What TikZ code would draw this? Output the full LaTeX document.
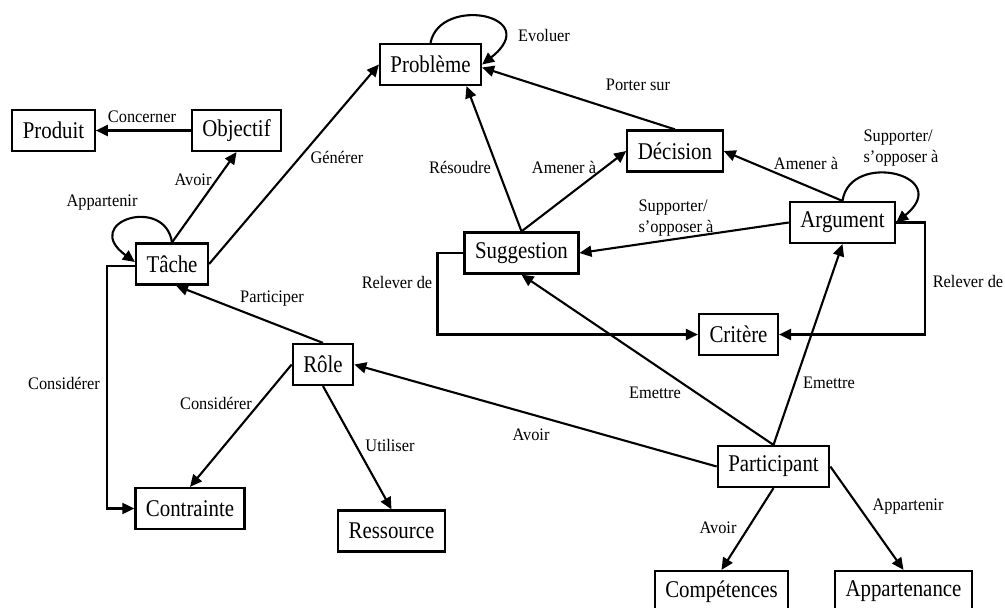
\documentclass[tikz,border=0pt]{standalone}
\usepackage{fontspec}
\setmainfont{Liberation Serif}
\newfontfamily\boxfont[FakeStretch=0.87]{Liberation Serif}
\newfontfamily\lblfont[FakeStretch=0.93]{Liberation Serif}
\usetikzlibrary{arrows.meta}
\tikzset{
  box/.style={draw, line width=2.2pt, inner xsep=10.5pt, inner ysep=0pt, minimum height=41pt, font=\boxfont\fontsize{24}{26}\selectfont},
  lbl/.style={font=\lblfont\fontsize{17.6}{21.5}\selectfont, inner sep=0pt, align=left},
  rel/.style={draw, line width=2.1pt, -{Triangle[length=12pt,width=11pt]}}
}

\begin{document}
\begin{tikzpicture}[x=1pt,y=-1pt]
    \useasboundingbox (0,0) rectangle (1005,608);
    %Boxes
    \node[box] (probleme) at (430.5,64.5) {Problème};
    \node[box] (produit) at (53.5,130.5) {Produit};
    \node[box] (objectif) at (236.5,130.5) {Objectif};
    \node[box] (tache) at (172,264) {Tâche};
    \node[box] (decision) at (675,151) {Décision};
    \node[box] (suggestion) at (521.5,253) {Suggestion};
    \node[box] (argument) at (842.5,222.5) {Argument};
    \node[box] (critere) at (738.5,334.5) {Critère};
    \node[box] (role) at (323,364.5) {Rôle};
    \node[box] (contrainte) at (190,508.5) {Contrainte};
    \node[box] (ressource) at (391.5,531) {Ressource};
    \node[box] (participant) at (773.5,466.5) {Participant};
    \node[box] (competences) at (721.5,591.5) {Compétences};
    \node[box] (appartenance) at (903.5,591.5) {Appartenance};
    %Labels
    \node[lbl] (lconcerner) at (142,117) {Concerner};
    \node[lbl] (lavoirobj) at (193,180) {Avoir};
    \node[lbl] (lappartache) at (102,203) {Appartenir};
    \node[lbl] (lgenerer) at (337,157) {Générer};
    \node[lbl] (levoluer) at (544,35) {Evoluer};
    \node[lbl] (lporter) at (638,85) {Porter sur};
    \node[lbl] (lresoudre) at (460,167) {Résoudre};
    \node[lbl] (lamenersug) at (564,167) {Amener à};
    \node[lbl] (lamenerarg) at (806,163) {Amener à};
    \node[lbl] (lsuppargloop) at (901,148) {Supporter/\\s’opposer à};
    \node[lbl] (lsuppsug) at (676,218) {Supporter/\\s’opposer à};
    \node[lbl] (lreleverarg) at (968,281) {Relever de};
    \node[lbl] (lreleversug) at (397,282) {Relever de};
    \node[lbl] (lconsidtache) at (64,383) {Considérer};
    \node[lbl] (lparticiper) at (272,299) {Participer};
    \node[lbl] (lconsidrole) at (216,403) {Considérer};
    \node[lbl] (lutiliser) at (390,445) {Utiliser};
    \node[lbl] (lavoirrole) at (531,435) {Avoir};
    \node[lbl] (lemettresug) at (655,393) {Emettre};
    \node[lbl] (lemettrearg) at (829,383) {Emettre};
    \node[lbl] (lavoircomp) at (718,528) {Avoir};
    \node[lbl] (lapparpart) at (908,507) {Appartenir};
    %Arrows
    \draw[rel] (objectif.west) -- (produit.east);
    \draw[rel] (tache.north) -- (objectif.south);
    \draw[rel] (tache.north) .. controls (165,195) and (80,222) .. ([yshift=2pt]tache.west);
    \draw[rel] (tache.east) -- (probleme.west);
    \draw[rel] (probleme.north) .. controls (440,-5) and (545,15) .. (probleme.east);
    \draw[rel] (decision.north) -- ([yshift=-3pt]probleme.east);
    \draw[rel] (suggestion.north) -- ([xshift=36pt]probleme.south);
    \draw[rel] (suggestion.north) -- (decision.west);
    \draw[rel] (argument.north) -- (decision.east);
    \draw[rel] (argument.north) .. controls (850,150) and (955,175) .. (argument.east);
    \draw[rel] (argument.west) -- (suggestion.east);
    \draw[rel] (argument.east) -- ++(29,0) |- (critere.east);
    \draw[rel] (suggestion.west) -- ++(-26,0) |- (critere.west);
    \draw[rel] ([yshift=-2pt]tache.west) -- ++(-28,0) |- (contrainte.west);
    \draw[rel] (role.north) -- ([xshift=4pt]tache.south);
    \draw[rel] (role.west) -- (contrainte.north);
    \draw[rel] (role.south) -- (ressource.north);
    \draw[rel] (participant.west) -- (role.east);
    \draw[rel] (participant.north) -- (suggestion.south);
    \draw[rel] (participant.north) -- (argument.south);
    \draw[rel] (participant.south) -- (competences.north);
    \draw[rel] (participant.east) -- (appartenance.north);
\end{tikzpicture}
\end{document}
